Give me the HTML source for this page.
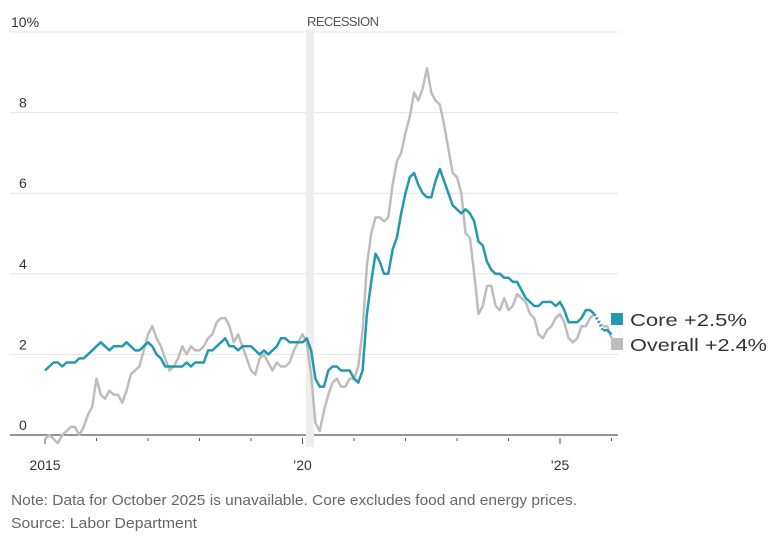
<!DOCTYPE html>
<html><head><meta charset="utf-8"><style>
body{margin:0;background:#fff;font-family:"Liberation Sans",sans-serif;}
svg text{font-family:"Liberation Sans",sans-serif;}
</style></head><body>
<svg id="chart" width="771" height="539" xmlns="http://www.w3.org/2000/svg">
<g id="grid"></g>
<rect x="306" y="30" width="8" height="417" fill="#eeeeee"/>
<text x="307" y="26" font-size="13" fill="#555" textLength="72">RECESSION</text>
<g id="lines"></g>
<g>
<rect x="611" y="313" width="12" height="12" fill="#2399b0"/>
<text x="630" y="326" font-size="17.5" fill="#333" textLength="117" lengthAdjust="spacingAndGlyphs">Core +2.5%</text>
<rect x="611" y="338" width="12" height="12" fill="#bdbdbd"/>
<text x="630" y="351" font-size="17.5" fill="#333" textLength="137" lengthAdjust="spacingAndGlyphs">Overall +2.4%</text>
</g>
<text x="11" y="505" font-size="15" fill="#666" textLength="566" lengthAdjust="spacingAndGlyphs">Note: Data for October 2025 is unavailable. Core excludes food and energy prices.</text>
<text x="11" y="528" font-size="15" fill="#666" textLength="186" lengthAdjust="spacingAndGlyphs">Source: Labor Department</text>
</svg>
<script>
const yTicks=[0,2,4,6,8,10];
const yTickLabels=["0","2","4","6","8","10%"];
const xYears=[2015,2016,2017,2018,2019,2020,2021,2022,2023,2024,2025,2026];
const xLabels={2015:"2015",2020:"\u201920",2025:"\u201925"};
const core=[1.6,1.7,1.8,1.8,1.7,1.8,1.8,1.8,1.9,1.9,2.0,2.1,
2.2,2.3,2.2,2.1,2.2,2.2,2.2,2.3,2.2,2.1,2.1,2.2,
2.3,2.2,2.0,1.9,1.7,1.7,1.7,1.7,1.7,1.8,1.7,1.8,
1.8,1.8,2.1,2.1,2.2,2.3,2.4,2.2,2.2,2.1,2.2,2.2,
2.2,2.1,2.0,2.1,2.0,2.1,2.2,2.4,2.4,2.3,2.3,2.3,
2.3,2.4,2.1,1.4,1.2,1.2,1.6,1.7,1.7,1.6,1.6,1.6,
1.4,1.3,1.6,3.0,3.8,4.5,4.3,4.0,4.0,4.6,4.9,5.5,
6.0,6.4,6.5,6.2,6.0,5.9,5.9,6.3,6.6,6.3,6.0,5.7,
5.6,5.5,5.6,5.5,5.3,4.8,4.7,4.3,4.1,4.0,4.0,3.9,
3.9,3.8,3.8,3.6,3.4,3.3,3.2,3.2,3.3,3.3,3.3,3.2,
3.3,3.1,2.8,2.8,2.8,2.9,3.1,3.1,3.0,null,2.6,2.6,
2.5];
const overall=[-0.1,0.0,-0.1,-0.2,0.0,0.1,0.2,0.2,0.0,0.2,0.5,0.7,
1.4,1.0,0.9,1.1,1.0,1.0,0.8,1.1,1.5,1.6,1.7,2.1,
2.5,2.7,2.4,2.2,1.9,1.6,1.7,1.9,2.2,2.0,2.2,2.1,
2.1,2.2,2.4,2.5,2.8,2.9,2.9,2.7,2.3,2.5,2.2,1.9,
1.6,1.5,1.9,2.0,1.8,1.6,1.8,1.7,1.7,1.8,2.1,2.3,
2.5,2.3,1.5,0.3,0.1,0.6,1.0,1.3,1.4,1.2,1.2,1.4,
1.4,1.7,2.6,4.2,5.0,5.4,5.4,5.3,5.4,6.2,6.8,7.0,
7.5,7.9,8.5,8.3,8.6,9.1,8.5,8.3,8.2,7.7,7.1,6.5,
6.4,6.0,5.0,4.9,4.0,3.0,3.2,3.7,3.7,3.2,3.1,3.4,
3.1,3.2,3.5,3.4,3.3,3.0,2.9,2.5,2.4,2.6,2.7,2.9,
3.0,2.8,2.4,2.3,2.4,2.7,2.7,2.9,3.0,null,2.7,2.7,
2.4];
const NS="http://www.w3.org/2000/svg";
const X=i=>45+i*(51.5/12);
const XY=yr=>45+(yr-2015)*51.5;
const Y=v=>435-v*40.3;
const grid=document.getElementById('grid');
function mk(tag,attrs,parent){const e=document.createElementNS(NS,tag);for(const k in attrs)e.setAttribute(k,attrs[k]);parent.appendChild(e);return e;}
yTicks.forEach((t,i)=>{
  if(t>0){const l=mk('line',{x1:10,x2:618,y1:Y(t),y2:Y(t),stroke:'#e4e4e4','stroke-width':1},grid);
  
  }
  const tx=mk('text',{x:t===10?11:19,y:Y(t)-5,'font-size':14,fill:'#333'},grid);
  tx.textContent=yTickLabels[i];
  
  
});
const ax=mk('line',{x1:10,x2:618,y1:435,y2:435,stroke:'#555','stroke-width':1.3},grid);


xYears.forEach(yr=>{
  const x=XY(yr);
  const big=xLabels[yr]!==undefined;
  const tk=mk('line',{x1:x,x2:x,y1:438,y2:big?444:441,stroke:'#555','stroke-width':1},grid);
  
  
  if(big){const t=mk('text',{x:x,y:470,'font-size':14,fill:'#333','text-anchor':'middle'},grid);
  t.textContent=xLabels[yr];
  
  }
});
const lines=document.getElementById('lines');
function draw(data,color,name){
  let d='';let pen=false;
  data.forEach((v,i)=>{if(v===null){pen=false;return;}d+=(pen?'L':'M')+X(i).toFixed(1)+' '+Y(v).toFixed(1);pen=true;});
  const p=mk('path',{d:d,fill:'none',stroke:color,'stroke-width':2.5,'stroke-linejoin':'round'},lines);
  
  
  data.forEach((v,i)=>{if(v===null&&i>0&&i<data.length-1){
    const b=mk('line',{x1:X(i-1),y1:Y(data[i-1]),x2:X(i+1),y2:Y(data[i+1]),stroke:color,'stroke-width':2.5,'stroke-dasharray':'2 2'},lines);
    
    }});
}
draw(overall,'#bdbdbd','overall');
draw(core,'#2399b0','core');
</script>
</body></html>
